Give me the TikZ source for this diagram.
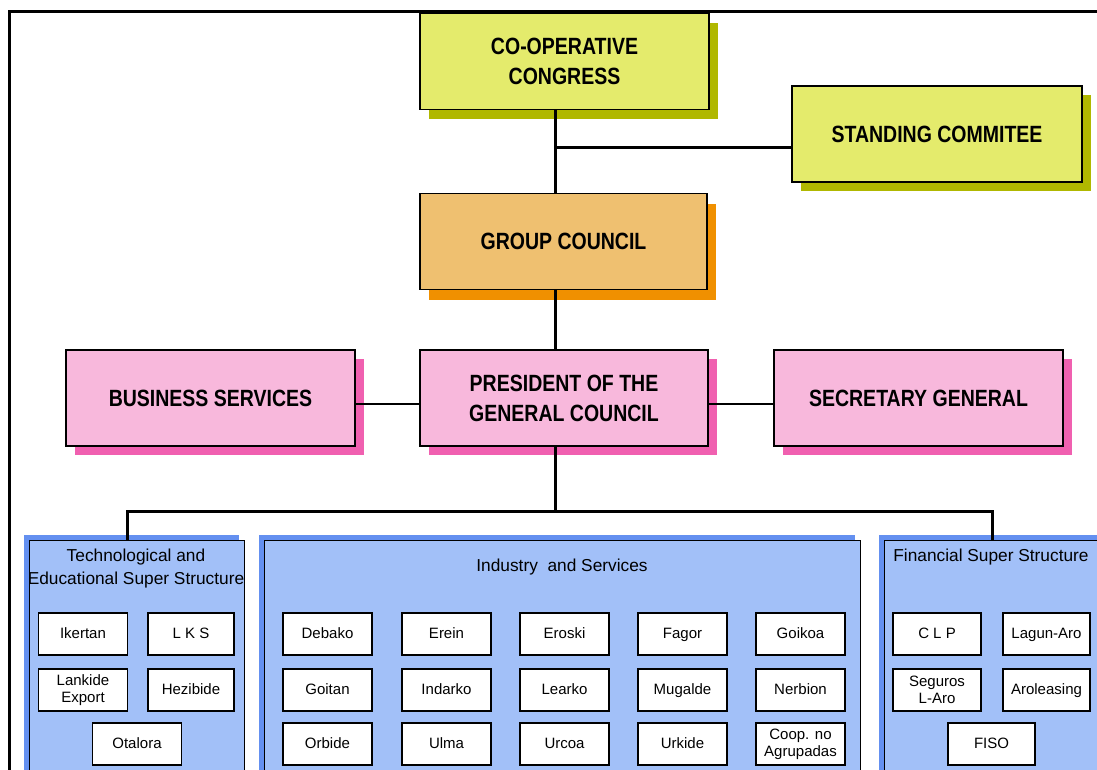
\documentclass[tikz,border=0pt]{standalone}
\usepackage{fontspec}
\setmainfont{Liberation Sans}
\newfontfamily\headfont[FakeStretch=0.83]{Liberation Sans}
\usetikzlibrary{shadows,positioning}

\definecolor{boxyellow}{HTML}{E4EB6C}
\definecolor{shadeyellow}{HTML}{B0B800}
\definecolor{boxorange}{HTML}{EFC070}
\definecolor{shadeorange}{HTML}{F09000}
\definecolor{boxpink}{HTML}{F8B8DC}
\definecolor{shadepink}{HTML}{F060B0}
\definecolor{groupblue}{HTML}{A2C0F8}
\definecolor{groupshade}{HTML}{6490F0}

\tikzset{
  headbox/.style={draw, line width=1.6pt, minimum width=289pt, minimum height=96pt,
    align=center, font=\headfont\bfseries\fontsize{23.5}{30}\selectfont},
  yellowbox/.style={headbox, fill=boxyellow,
    drop shadow={shadow xshift=9pt, shadow yshift=-9pt, fill=shadeyellow, opacity=1}},
  orangebox/.style={headbox, fill=boxorange,
    drop shadow={shadow xshift=9pt, shadow yshift=-10pt, fill=shadeorange, opacity=1}},
  pinkbox/.style={headbox, fill=boxpink,
    drop shadow={shadow xshift=9pt, shadow yshift=-9pt, fill=shadepink, opacity=1}},
  groupbox/.style={draw, line width=1.3pt, fill=groupblue, anchor=north west, minimum height=260pt,
    drop shadow={shadow xshift=-6pt, shadow yshift=6pt, fill=groupshade, opacity=1}},
  grouptitle/.style={align=center, font=\fontsize{17.3}{23}\selectfont},
  unitbox/.style={draw, line width=1.4pt, fill=white, minimum width=89pt, minimum height=42pt,
    align=center, font=\fontsize{15}{17}\selectfont},
  unitline/.style={unitbox, text height=11pt, text depth=3pt},
  link/.style={line width=3pt}
}

\begin{document}
\begin{tikzpicture}[x=1pt, y=-1pt]
    \useasboundingbox (0,0) rectangle (1097,769);
    \clip (0,0) rectangle (1097,769);
    \fill[white] (0,0) rectangle (1097,769);

    % top levels
    \node[yellowbox] (congress) at (564.5,61.5) {CO-OPERATIVE\\CONGRESS};
    \node[yellowbox, minimum width=290pt] (standing) at (937,134) {STANDING COMMITEE};
    \node[orangebox, minimum width=287pt] (group) at (563.5,241.5) {GROUP COUNCIL};
    \node[pinkbox] (business) at (210.5,398) {BUSINESS SERVICES};
    \node[pinkbox, minimum width=288pt] (president) at (564,398) {PRESIDENT OF THE\\GENERAL COUNCIL};
    \node[pinkbox] (secretary) at (918.5,398) {SECRETARY GENERAL};

    % groups
    \node[groupbox, minimum width=215pt] (tech) at (29,540) {};
    \node[groupbox, minimum width=596pt] (industry) at (264,540) {};
    \node[groupbox, minimum width=222pt] (finance) at (884,540) {};
    \node[grouptitle] (techtitle) at (136,569) {Technological and\\Educational Super Structure};
    \node[grouptitle] (industrytitle) at (562,567) {Industry\ \ and Services};
    \node[grouptitle] (financetitle) at (991,557) {Financial Super Structure};

    % technological units
    \node[unitline] (ikertan) at (83,634) {Ikertan};
    \node[unitline, minimum width=86pt] (lks) at (191,634) {L K S};
    \node[unitbox] (lankide) at (83,690) {Lankide\\Export};
    \node[unitline, minimum width=86pt] (hezibide) at (191,690) {Hezibide};
    \node[unitline] (otalora) at (137,744) {Otalora};

    % industry units
    \node[unitline] (debako) at (327.5,634) {Debako};
    \node[unitline] (erein) at (446.5,634) {Erein};
    \node[unitline] (eroski) at (564.5,634) {Eroski};
    \node[unitline] (fagor) at (682.5,634) {Fagor};
    \node[unitline] (goikoa) at (800.5,634) {Goikoa};
    \node[unitline] (goitan) at (327.5,690) {Goitan};
    \node[unitline] (indarko) at (446.5,690) {Indarko};
    \node[unitline] (learko) at (564.5,690) {Learko};
    \node[unitline] (mugalde) at (682.5,690) {Mugalde};
    \node[unitline] (nerbion) at (800.5,690) {Nerbion};
    \node[unitline] (orbide) at (327.5,744) {Orbide};
    \node[unitline] (ulma) at (446.5,744) {Ulma};
    \node[unitline] (urcoa) at (564.5,744) {Urcoa};
    \node[unitline] (urkide) at (682.5,744) {Urkide};
    \node[unitbox] (coop) at (800.5,744) {Coop. no\\Agrupadas};

    % financial units
    \node[unitline, minimum width=88pt] (clp) at (937,634) {C L P};
    \node[unitline, minimum width=87pt] (lagun) at (1046.5,634) {Lagun-Aro};
    \node[unitbox, minimum width=88pt] (seguros) at (937,690) {Seguros\\L-Aro};
    \node[unitline, minimum width=87pt] (aroleasing) at (1046.5,690) {Aroleasing};
    \node[unitline, minimum width=87pt] (fiso) at (991.5,744) {FISO};

    % connectors
    \coordinate (spine) at (555,0);
    \coordinate (branch) at (555,147);
    \coordinate (bus) at (555,511);
    \coordinate (busleft) at (127,511);
    \coordinate (busright) at (992,511);
    \draw[link] (spine |- congress.south) -- (spine |- group.north);
    \draw[link] (branch) -- (branch -| standing.west);
    \draw[link] (spine |- group.south) -- (spine |- president.north);
    \draw[link, line width=1.6pt] ([yshift=-6pt]business.east) -- ([yshift=-6pt]president.west);
    \draw[link, line width=1.6pt] ([yshift=-6pt]president.east) -- ([yshift=-6pt]secretary.west);
    \draw[link] (spine |- president.south) -- (bus);
    \draw[link] (busleft |- tech.north) -- (busleft) -- (busright) -- (busright |- finance.north);

    % frame
    \draw[line width=3pt] (1100,11) -- (9,11) -- (9,775);
\end{tikzpicture}
\end{document}
